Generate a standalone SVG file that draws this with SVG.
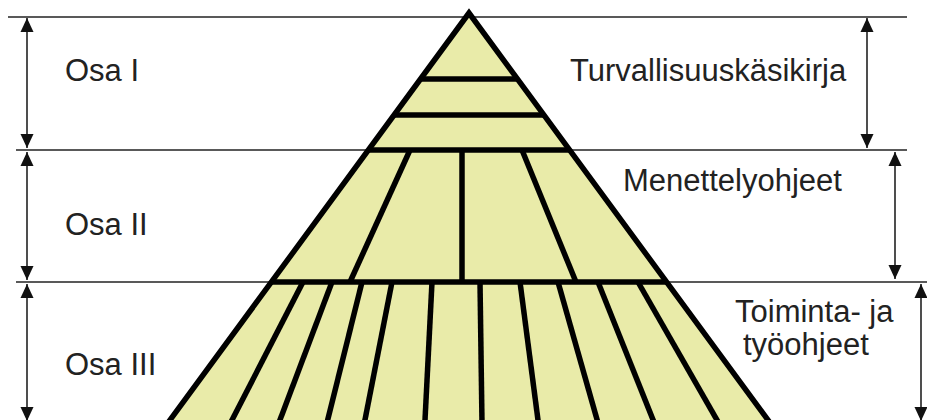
<svg xmlns="http://www.w3.org/2000/svg" width="927" height="420" viewBox="0 0 927 420">
<style>
.guide{stroke:#222;stroke-width:1.6;fill:none}
.arr{stroke:#222;stroke-width:1.6;fill:none;marker-start:url(#ah);marker-end:url(#ah)}
.pyr{fill:#E9EBA9;stroke:#000;stroke-width:5.5;stroke-linejoin:miter}
.div{stroke:#000;stroke-width:5.5;fill:none;stroke-linecap:butt}
.lbl{font-family:"Liberation Sans",Arial,sans-serif;font-size:31px;fill:#222}
</style>
<defs>
<marker id="ah" viewBox="0 0 14 14" refX="14" refY="7" markerWidth="14" markerHeight="14" markerUnits="userSpaceOnUse" orient="auto-start-reverse">
<path d="M0,0.5 L14,7 L0,13.5 z" fill="#111"/>
</marker>
</defs>
<rect width="927" height="420" fill="#fff"/>
<g id="guides">
<line class="guide" x1="8" y1="17" x2="907" y2="17"/>
<line class="guide" x1="16" y1="150" x2="907" y2="150"/>
<line class="guide" x1="16" y1="282" x2="927" y2="282"/>
</g>
<g id="pyramid">
<polygon class="pyr" points="469,13 162.7,430 775.3,430"/>
<line class="div" x1="420.5" y1="79" x2="517.5" y2="79"/>
<line class="div" x1="394.1" y1="115" x2="543.9" y2="115"/>
<line class="div" x1="368.4" y1="150" x2="569.6" y2="150"/>
<line class="div" x1="271.4" y1="282" x2="666.6" y2="282"/>
<line class="div" x1="410" y1="150" x2="350" y2="282"/>
<line class="div" x1="462" y1="150" x2="462" y2="282"/>
<line class="div" x1="522" y1="150" x2="576" y2="282"/>
<line class="div" x1="303" y1="282" x2="226.9" y2="430"/>
<line class="div" x1="332" y1="282" x2="276.2" y2="430"/>
<line class="div" x1="362" y1="282" x2="325.2" y2="430"/>
<line class="div" x1="392" y1="282" x2="363" y2="430"/>
<line class="div" x1="432" y1="282" x2="424.5" y2="430"/>
<line class="div" x1="480" y1="282" x2="482.1" y2="430"/>
<line class="div" x1="520" y1="282" x2="539.3" y2="430"/>
<line class="div" x1="558" y1="282" x2="600" y2="430"/>
<line class="div" x1="598" y1="282" x2="657.1" y2="430"/>
<line class="div" x1="638" y1="282" x2="722.7" y2="430"/>
</g>
<g id="connectors">
<line class="arr" x1="27" y1="18" x2="27" y2="148"/>
<line class="arr" x1="27" y1="152" x2="27" y2="280"/>
<line class="arr" x1="27" y1="284" x2="27" y2="421"/>
<line class="arr" x1="867" y1="18" x2="867" y2="148"/>
<line class="arr" x1="895" y1="152" x2="895" y2="279"/>
<line class="arr" x1="921" y1="284" x2="921" y2="421"/>
</g>
<g id="osa1"><text class="lbl" x="65" y="81">Osa I</text></g>
<g id="osa2"><text class="lbl" x="65" y="235">Osa II</text></g>
<g id="osa3"><text class="lbl" x="65" y="375">Osa III</text></g>
<g id="turvallisuuskasikirja"><text class="lbl" x="570" y="81">Turvallisuuskäsikirja</text></g>
<g id="menettelyohjeet"><text class="lbl" x="623" y="191">Menettelyohjeet</text></g>
<g id="toimintaohjeet"><text class="lbl" x="735" y="322">Toiminta- ja</text><text class="lbl" x="743" y="355">työohjeet</text></g>
</svg>
